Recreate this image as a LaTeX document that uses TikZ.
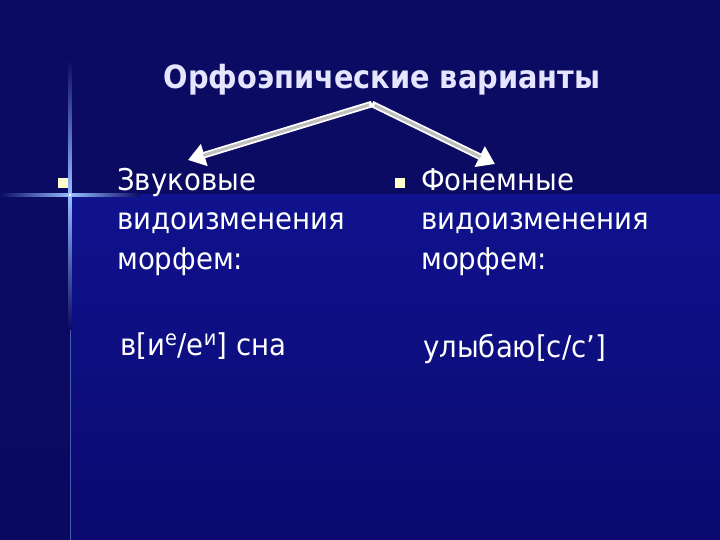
\documentclass[tikz,border=0pt]{standalone}
\usepackage{fontspec}
\usepackage{tikz}
\usetikzlibrary{arrows.meta, positioning}
\setmainfont{DejaVu Sans}
\newfontfamily\headfont{DejaVu Sans}[FakeStretch=0.9]
\newfontfamily\bodyfont{DejaVu Sans}[FakeStretch=0.92]
\definecolor{slidetop}{RGB}{11,11,100}
\definecolor{slidemid}{RGB}{16,18,142}
\definecolor{slidelow}{RGB}{10,10,112}
\definecolor{slideedge}{RGB}{9,9,96}
\definecolor{flare}{RGB}{150,190,255}
\definecolor{bulletcol}{RGB}{255,255,204}
\tikzstyle{heading} = [text=white!90!blue, font=\headfont\bfseries\fontsize{32}{36}\selectfont,
inner sep=0pt]
\tikzstyle{item} = [text=white, align=left, inner sep=0pt,
font=\bodyfont\fontsize{30}{39.5}\selectfont]
\tikzstyle{bullet} = [rectangle, fill=bulletcol, minimum size=10pt, inner sep=0pt]
\tikzstyle{branch} = [line width=6.5pt, white, -{Triangle[width=22pt,length=17pt]}]
\tikzstyle{branchcore} = [line width=3pt, gray!50, shorten >=16pt, shorten <=3pt]

\begin{document}
\begin{tikzpicture}[x=1pt, y=-1pt]
  % Background of the slide
  \useasboundingbox (0,0) rectangle (720,540);
  \fill [slidetop] (0,0) rectangle (720,195);
  \shade [top color=slidemid, bottom color=slidelow] (70,195) rectangle (720,540);
  \shade [top color=slidetop, bottom color=slideedge] (0,195) rectangle (70,540);
  % Star flare
  \shade [left color=slidetop, right color=flare] (0,193.5) rectangle (70,196.5);
  \shade [left color=flare, right color=slidetop] (70,193.5) rectangle (140,196.5);
  \shade [top color=slidetop, bottom color=flare] (68.5,60) rectangle (71.5,195);
  \shade [top color=flare, bottom color=slideedge] (68.5,195) rectangle (71.5,330);
  \draw [flare!45!slideedge, line width=0.8pt] (70,330) -- (70,540);
  \fill [white] (70,195) circle (1.5pt);
  % Nodes
  \node (title) [heading, anchor=base] at (382,89) {Орфоэпические варианты};
  \coordinate (apex) at (372,104);
  \coordinate (lefttip) at (188,160);
  \coordinate (righttip) at (495,164);
  \node (lbul) [bullet] at (63,183) {};
  \node (lhead) [item, anchor=north west] at (117,168)
        {Звуковые\\видоизменения\\морфем:};
  \node (rbul) [bullet] at (400,183) {};
  \node (rhead) [item, anchor=north west] at (421,168)
        {Фонемные\\видоизменения\\морфем:};
  \node (lexample) [item, anchor=base west] at (120,355)
        {в[и\textsuperscript{е}/е\textsuperscript{и}] сна};
  \node (rexample) [item, anchor=base west] at (423,357) {улыбаю[с/с’]};
  % Connections
  \draw [branch] (apex) -- (lefttip);
  \draw [branchcore] (apex) -- (lefttip);
  \draw [branch] (apex) -- (righttip);
  \draw [branchcore] (apex) -- (righttip);
\end{tikzpicture}
\end{document}
